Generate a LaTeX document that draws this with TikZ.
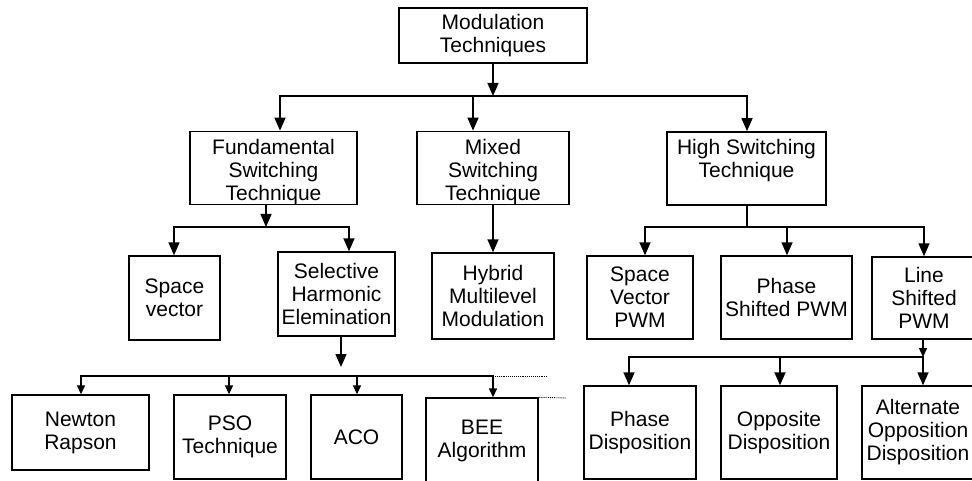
\documentclass[tikz,border=0pt]{standalone}
\usepackage{fontspec}
\setmainfont{Liberation Sans}
\usetikzlibrary{arrows.meta}
\newcommand{\toppad}{\rule{0pt}{23pt}}
\begin{document}
\begin{tikzpicture}[x=1pt,y=-1pt,
  bx/.style={draw, line width=1.4pt, inner sep=0pt, align=center, font=\fontsize{21}{23}\selectfont},
  big/.style={-{Triangle[width=11pt,length=13pt]}, line width=1.5pt},
  sml/.style={-{Triangle[width=8pt,length=9pt]}, line width=1.5pt},
  ln/.style={line width=1.5pt, line cap=rect},
  dots/.style={densely dotted, line width=0.9pt}]
\useasboundingbox (0,0) rectangle (972,481);
\fill[white] (0,0) rectangle (972,481);
\clip (0,0) rectangle (972,481);

% boxes
\node[bx, minimum width=188, minimum height=55] (mod) at (493,35.5) {Modulation\\Techniques};
\node[bx, minimum width=167, minimum height=70] (fund) at (273.5,168) {\toppad Fundamental\\Switching\\Technique};
\node[bx, minimum width=152, minimum height=70] (mixed) at (493,168) {\toppad Mixed\\Switching\\Technique};
\node[bx, minimum width=159, minimum height=69] (high) at (746.5,168.5) {\toppad High Switching\\Technique\\\vphantom{Tq}};
\node[bx, minimum width=91, minimum height=84] (sv) at (174.5,298) {Space\\vector};
\node[bx, minimum width=117, minimum height=84] (she) at (336.5,294) {Selective\\Harmonic\\Elemination};
\node[bx, minimum width=122, minimum height=86] (hyb) at (493,296) {Hybrid\\Multilevel\\Modulation};
\node[bx, minimum width=106, minimum height=83] (svpwm) at (640,297.5) {Space\\Vector\\PWM};
\node[bx, minimum width=131, minimum height=83] (pspwm) at (786.5,297.5) {Phase\\Shifted PWM};
\node[bx, minimum width=104, minimum height=82] (lspwm) at (924,298) {Line\\Shifted\\PWM};
\node[bx, minimum width=137, minimum height=75] (newton) at (80.5,432.5) {Newton\\Rapson};
\node[bx, minimum width=112, minimum height=84] (pso) at (230,437) {PSO\\Technique};
\node[bx, minimum width=91, minimum height=84] (aco) at (356.5,437) {ACO};
\node[bx, minimum width=112, minimum height=86] (bee) at (482,441) {BEE\\Algorithm};
\node[bx, minimum width=112, minimum height=93] (pd) at (640,432.5) {Phase\\Disposition};
\node[bx, minimum width=116, minimum height=93] (od) at (779,432.5) {Opposite\\Disposition};
\node[bx, minimum width=112, minimum height=93] (aod) at (918,432.5) {Alternate\\Opposition\\Disposition};

% level 1
\coordinate (b1) at (493,96);
\coordinate (b1l) at (280,96);
\coordinate (b1m) at (473,96);
\coordinate (b1r) at (747,96);
\draw[big] (mod.south) -- (b1);
\draw[ln] (b1l) -- (b1r);
\draw[big] (b1l) -- (b1l |- fund.north);
\draw[big] (b1m) -- (b1m |- mixed.north);
\draw[big] (b1r) -- (b1r |- high.north);

% fundamental
\coordinate (b2) at (266,227);
\coordinate (b2l) at (174,227);
\coordinate (b2r) at (349,227);
\draw[big] (fund.south -| b2) -- (b2);
\draw[ln] (b2l) -- (b2r);
\draw[big] (b2l) -- (b2l |- sv.north);
\draw[big] (b2r) -- (b2r |- she.north);

% mixed
\draw[big] (mixed.south) -- (hyb.north);

% SHE
\coordinate (b3) at (341,367);
\coordinate (b3l) at (81,376);
\coordinate (b3a) at (229,376);
\coordinate (b3b) at (357,376);
\coordinate (b3r) at (493,376);
\draw[big] (she.south -| b3) -- (b3);
\draw[ln] (b3l) -- (b3r);
\draw[sml] (b3l) -- (b3l |- newton.north);
\draw[sml] (b3a) -- (b3a |- pso.north);
\draw[sml] (b3b) -- (b3b |- aco.north);
\draw[sml] (b3r) -- (b3r |- bee.north);
\coordinate (d1) at (548,376);
\coordinate (d2) at (567,398);
\draw[dots] (b3r) -- (d1);
\draw[dots] (bee.north east) -- (d2);

% high switching
\coordinate (b4) at (747,227);
\coordinate (b4l) at (645,227);
\coordinate (b4m) at (787,227);
\coordinate (b4r) at (924,227);
\draw[ln] (high.south -| b4) -- (b4);
\draw[ln] (b4l) -- (b4r);
\draw[big] (b4l) -- (b4l |- svpwm.north);
\draw[big] (b4m) -- (b4m |- pspwm.north);
\draw[big] (b4r) -- (b4r |- lspwm.north);

% line shifted
\coordinate (b5) at (923,357);
\coordinate (b5l) at (629,357);
\coordinate (b5m) at (780,357);
\draw[sml] (lspwm.south -| b5) -- (b5);
\draw[ln] (b5l) -- (b5);
\draw[big] (b5l) -- (b5l |- pd.north);
\draw[big] (b5m) -- (b5m |- od.north);
\draw[big] (b5) -- (b5 |- aod.north);
\end{tikzpicture}
\end{document}
